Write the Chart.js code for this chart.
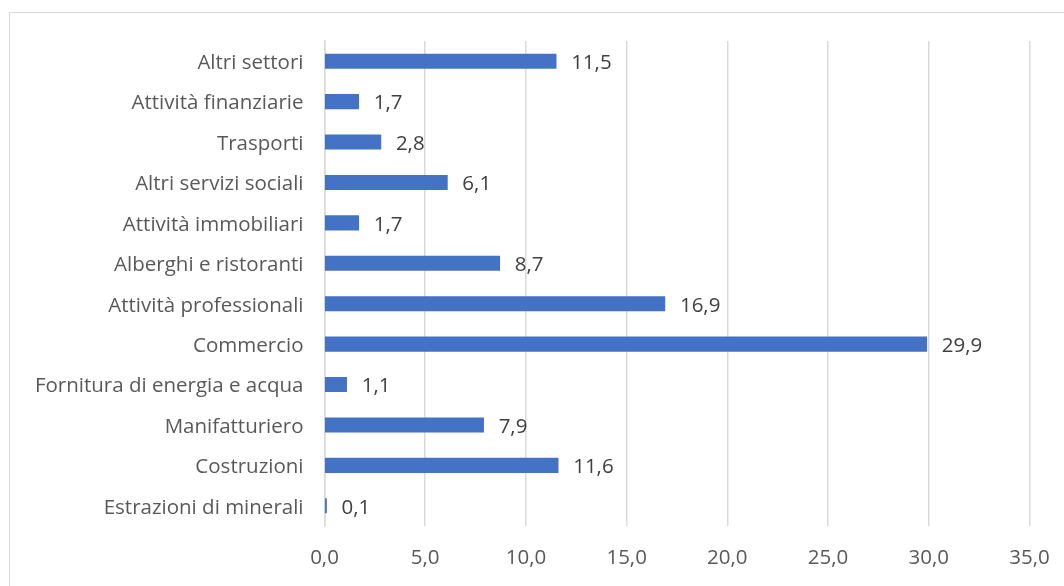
<!DOCTYPE html>
<html>
<head>
<meta charset="utf-8">
<script src="https://cdn.jsdelivr.net/npm/chart.js@4"></script>
<style>
  html, body { margin: 0; padding: 0; background: #fff; overflow: hidden; }
  #wrap { position: relative; width: 1064px; height: 586px; }
</style>
</head>
<body>
<div id="wrap"><canvas id="c" width="1064" height="586"></canvas></div>
<script>
const categories = [
  "Altri settori",
  "Attività finanziarie",
  "Trasporti",
  "Altri servizi sociali",
  "Attività immobiliari",
  "Alberghi e ristoranti",
  "Attività professionali",
  "Commercio",
  "Fornitura di energia e acqua",
  "Manifatturiero",
  "Costruzioni",
  "Estrazioni di minerali"
];
const values = [11.5, 1.7, 2.8, 6.1, 1.7, 8.7, 16.9, 29.9, 1.1, 7.9, 11.6, 0.1];
const tickValues = [0, 5, 10, 15, 20, 25, 30, 35];

const FONT = "'Open Sans', 'Liberation Sans', sans-serif";
const FS = 20.5;
const fmt = v => v.toFixed(1).replace('.', ',');

const borderPlugin = {
  id: 'outerBorder',
  beforeDraw(chart) {
    const ctx = chart.ctx;
    ctx.save();
    ctx.fillStyle = '#ffffff';
    ctx.fillRect(0, 0, chart.width, chart.height);
    ctx.strokeStyle = '#d9d9d9';
    ctx.lineWidth = 1;
    ctx.strokeRect(9.5, 12.5, 1200, 800);
    ctx.restore();
  }
};

const labelPlugin = {
  id: 'valueLabels',
  afterDatasetsDraw(chart) {
    const ctx = chart.ctx;
    const meta = chart.getDatasetMeta(0);
    ctx.save();
    ctx.font = FS + 'px ' + FONT;
    ctx.fillStyle = '#404040';
    ctx.textAlign = 'left';
    ctx.textBaseline = 'middle';
    meta.data.forEach((bar, i) => {
      ctx.fillText(fmt(values[i]), bar.x + 15, bar.y + 2);
    });
    ctx.restore();
  }
};

new Chart(document.getElementById('c'), {
  type: 'bar',
  data: {
    labels: categories,
    datasets: [{
      data: values,
      backgroundColor: '#4472C4',
      borderWidth: 0,
      barThickness: 14.5
    }]
  },
  options: {
    indexAxis: 'y',
    responsive: false,
    animation: false,
    devicePixelRatio: 1,
    layout: { padding: { left: 9, top: 41, right: 34.5, bottom: 0 } },
    plugins: { legend: { display: false }, tooltip: { enabled: false } },
    scales: {
      x: {
        type: 'linear',
        min: 0,
        max: 35,
        afterBuildTicks(scale) { scale.ticks = tickValues.map(v => ({ value: v })); },
        afterFit(scale) { scale.height = 60; scale.paddingRight = 0; scale.paddingLeft = 0; },
        grid: { color: '#d9d9d9', lineWidth: 1.5, drawTicks: false },
        border: { display: false },
        ticks: {
          color: '#595959',
          font: { family: FONT, size: FS },
          padding: 20,
          maxRotation: 0,
          callback: v => fmt(v)
        }
      },
      y: {
        afterFit(scale) { scale.width = 315.5; scale.paddingTop = 0; scale.paddingBottom = 0; },
        grid: { display: false, drawTicks: false },
        border: { display: true, color: '#d9d9d9', width: 1.5 },
        ticks: {
          color: '#595959',
          font: { family: FONT, size: FS },
          padding: 21,
          labelOffset: 2,
          autoSkip: false
        }
      }
    }
  },
  plugins: [borderPlugin, labelPlugin]
});
</script>
</body>
</html>
